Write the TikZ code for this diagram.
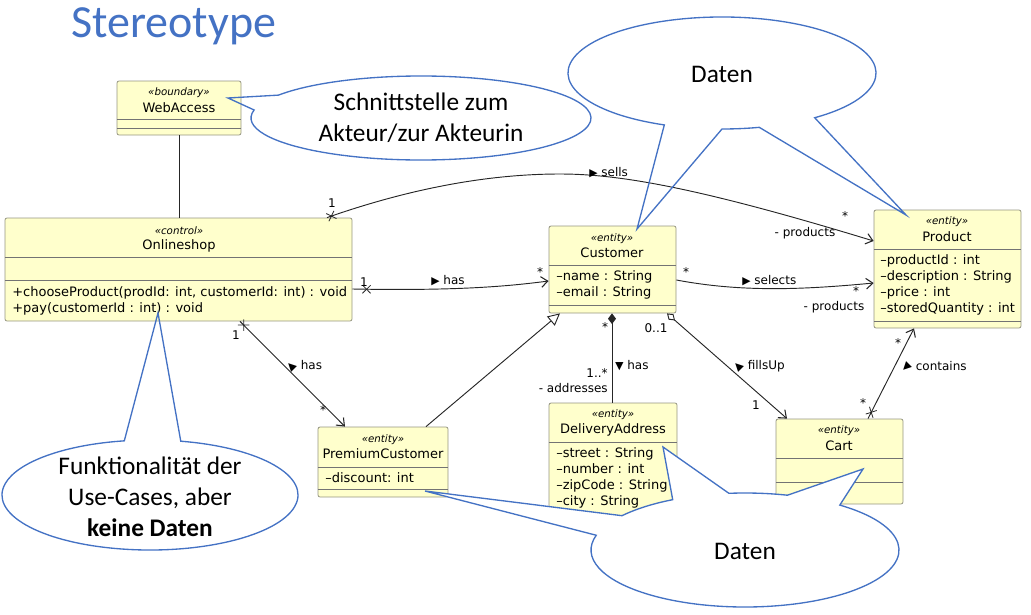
\documentclass[tikz,border=0pt]{standalone}
\usepackage{fontspec}
\setmainfont{DejaVu Sans}
\newfontfamily\notefont{Carlito}
\usepackage{graphicx}
\usepackage{tikz}
\usepackage{xcolor}
\usetikzlibrary{arrows.meta,shapes.misc}

\definecolor{classyellow}{RGB}{255,255,204}
\definecolor{classborder}{RGB}{150,150,130}
\definecolor{noteblue}{RGB}{68,114,196}

\newcommand{\readdir}[1]{\rotatebox[origin=c]{#1}{\scalebox{0.9}{▶}}}

\begin{document}
\begin{tikzpicture}[x=0.75pt,y=-0.75pt,
        >={Straight Barb[length=5pt,width=8pt,line width=0.8pt]},
        classbox/.style 2 args={draw=classborder, fill=classyellow, rounded corners=1.5pt,
            line width=0.6pt, minimum width=#1*0.75pt, minimum height=#2*0.75pt, inner sep=0pt},
        divider/.style={draw=black!55, line width=0.6pt},
        stereo/.style={font=\fontsize{7.7}{9}\selectfont\itshape, inner sep=0pt},
        cname/.style={font=\fontsize{9.75}{12}\selectfont, inner sep=0pt},
        members/.style={font=\fontsize{9.75}{12}\selectfont, align=left, anchor=west, inner sep=0pt},
        assoc/.style={draw=black!85, line width=0.7pt},
        lbl/.style={font=\fontsize{9}{10}\selectfont, inner sep=0pt},
        xmark/.style={cross out, draw=black!85, line width=0.6pt, minimum size=5.5pt, inner sep=0pt},
        callout/.style={draw=noteblue, line width=1pt},
        notetext/.style={font=\notefont\fontsize{19}{23.25}\selectfont, align=center, inner sep=0pt},
        titletext/.style={font=\notefont\fontsize{34.5}{40}\selectfont, text=noteblue, inner sep=0pt}]

    \useasboundingbox (0,0) rectangle (1031,614);

    \node[titletext, anchor=base west] (title) at (71,37) {Stereotype};

    % classes
    \node[classbox={124}{54}]  (web)  at (179,108)     {};
    \node[classbox={347}{103}] (shop) at (178.5,269.5) {};
    \node[classbox={127}{87}]  (cust) at (612.5,269.5) {};
    \node[classbox={147}{118}] (prod) at (947.5,269)   {};
    \node[classbox={130}{70}]  (prem) at (383,462)     {};
    \node[classbox={128}{115}] (addr) at (613,460.5)   {};
    \node[classbox={127}{85}]  (cart) at (839.5,461.5) {};

    % compartments
    \draw[divider] (web.west |- 0,119)  -- (web.east |- 0,119);
    \draw[divider] (web.west |- 0,128)  -- (web.east |- 0,128);
    \draw[divider] (shop.west |- 0,257) -- (shop.east |- 0,257);
    \draw[divider] (shop.west |- 0,280) -- (shop.east |- 0,280);
    \draw[divider] (cust.west |- 0,265) -- (cust.east |- 0,265);
    \draw[divider] (cust.west |- 0,305) -- (cust.east |- 0,305);
    \draw[divider] (prod.west |- 0,249) -- (prod.east |- 0,249);
    \draw[divider] (prod.west |- 0,321) -- (prod.east |- 0,321);
    \draw[divider] (prem.west |- 0,467) -- (prem.east |- 0,467);
    \draw[divider] (prem.west |- 0,489) -- (prem.east |- 0,489);
    \draw[divider] (addr.west |- 0,442) -- (addr.east |- 0,442);
    \draw[divider] (cart.west |- 0,458) -- (cart.east |- 0,458);
    \draw[divider] (cart.west |- 0,482) -- (cart.east |- 0,482);

    \node[stereo]  (webst)   at (179,93)  {«boundary»};
    \node[cname]   (webnm)   at (179,108) {WebAccess};
    \node[stereo]  (shopst)  at (179,231) {«control»};
    \node[cname]   (shopnm)  at (179,246) {Onlineshop};
    \node[members] (shopops) at (12,301)  {+chooseProduct(prodId: int, customerId: int) : void\\+pay(customerId : int) : void};
    \node[stereo]  (custst)  at (612,239) {«entity»};
    \node[cname]   (custnm)  at (612,253) {Customer};
    \node[members] (custat)  at (556,285) {–name : String\\–email : String};
    \node[stereo]  (prodst)  at (947,222) {«entity»};
    \node[cname]   (prodnm)  at (947,237) {Product};
    \node[members] (prodat)  at (880,285) {–productId : int\\–description : String\\–price : int\\–storedQuantity : int};
    \node[stereo]  (premst)  at (383,440) {«entity»};
    \node[cname]   (premnm)  at (383,454) {PremiumCustomer};
    \node[members] (premat)  at (325,478) {–discount: int};
    \node[stereo]  (addrst)  at (613,415) {«entity»};
    \node[cname]   (addrnm)  at (613,430) {DeliveryAddress};
    \node[members] (addrat)  at (556,478) {–street : String\\–number : int\\–zipCode : String\\–city : String};
    \node[stereo]  (cartst)  at (839,431) {«entity»};
    \node[cname]   (cartnm)  at (839,446) {Cart};

    % associations
    \draw[assoc] (web.south) -- (web.south |- shop.north);
    \draw[assoc,->] (shop.north -| 327,0) .. controls (400,192) and (480,174) .. (560,174)
        node[xmark,pos=0.02,sloped] (sellsx) {}
        .. controls (620,174) and (700,188) .. (prod.west |- 0,241);
    \draw[assoc,->] (shop.east |- 0,289) .. controls (460,291) and (510,286) .. (cust.west |- 0,281)
        node[xmark,pos=0.045,sloped] (hasx) {};
    \draw[assoc,->] (shop.south -| 240,0) -- (prem.north -| 345,0)
        node[xmark,pos=0.035,sloped] (premx) {};
    \draw[assoc,->] (cust.east |- 0,280) .. controls (740,292) and (800,290) .. (prod.west |- 0,283);
    \draw[assoc,{Diamond[length=8pt,width=6pt]}-] (cust.south -| 612,0) -- (addr.north -| 612,0);
    \draw[assoc,-{Triangle[open,fill=white,length=9pt,width=9pt]}] (prem.north -| 426,0) -- (cust.south -| 560,0);
    \draw[assoc,{Diamond[open,fill=white,length=8pt,width=5.5pt]}->] (cust.south -| 667,0) -- (cart.north -| 787,0);
    \draw[assoc,->] (cart.north -| 868,0) -- (prod.south -| 914,0)
        node[xmark,pos=0.07,sloped] (cartx) {};

    \node[lbl] (sellsm1) at (332,203) {1};
    \node[lbl,anchor=west] (sellsl) at (589,173) {\readdir{0} sells};
    \node[lbl] (sellsm2) at (845,216) {*};
    \node[lbl] (sellsr) at (805,233) {- products};

    \node[lbl] (hasm1) at (364,282) {1};
    \node[lbl,anchor=west] (hasl) at (431,281) {\readdir{0} has};
    \node[lbl] (hasm2) at (540,272) {*};

    \node[lbl] (premm1) at (236,335) {1};
    \node[lbl,anchor=west] (preml) at (285,366) {\readdir{135} has};
    \node[lbl] (premm2) at (323,410) {*};

    \node[lbl] (selm1) at (686,272) {*};
    \node[lbl,anchor=west] (sell) at (742,281) {\readdir{0} selects};
    \node[lbl] (selm2) at (856,291) {*};
    \node[lbl] (selr) at (834,307) {- products};

    \node[lbl] (compm1) at (605,327) {*};
    \node[lbl,anchor=west] (compl) at (615,366) {\readdir{-90} has};
    \node[lbl,anchor=east] (compm2) at (608,373) {1..*};
    \node[lbl,anchor=east] (compr) at (608,388) {- addresses};

    \node[lbl] (aggm1) at (656,328) {0..1};
    \node[lbl,anchor=west] (aggl) at (732,366) {\readdir{135} fillsUp};
    \node[lbl] (aggm2) at (756,405) {1};

    \node[lbl] (contm1) at (863,403) {*};
    \node[lbl] (contm2) at (898,343) {*};
    \node[lbl,anchor=west] (contl) at (900,367) {\readdir{225} contains};

    % notes
    \coordinate (nbc) at (421,118);
    \path (nbc) ++(213:170 and 42) coordinate (nb1);
    \coordinate (nbtip) at (228,98);
    \draw[callout] (nb1) arc[start angle=213, end angle=551, x radius=170, y radius=42] -- (nbtip) -- cycle;
    \node[notetext] (nbtext) at (421,118) {Schnittstelle zum\\Akteur/zur Akteurin};

    \coordinate (ntc) at (722,73);
    \path (ntc) ++(112:154 and 56) coordinate (nta1)
          (ntc) ++(76:154 and 56) coordinate (ntb2);
    \coordinate (ntipa) at (637,229);
    \coordinate (ntipb) at (906,215);
    \draw[callout] (nta1) arc[start angle=112, end angle=413, x radius=154, y radius=56] -- (ntipb)
        -- (ntb2) arc[start angle=76, end angle=90, x radius=154, y radius=56] -- (ntipa) -- cycle;
    \node[notetext] (nttext) at (722,74) {Daten};

    \coordinate (nlc) at (150,495);
    \path (nlc) ++(282:148 and 55) coordinate (nl1);
    \coordinate (nltip) at (158,313);
    \draw[callout] (nl1) arc[start angle=282, end angle=620, x radius=148, y radius=55] -- (nltip) -- cycle;
    \node[notetext] (nltext) at (150,497) {Funktionalität der\\Use-Cases, aber\\\textbf{keine Daten}};

    \coordinate (ndc) at (745,550);
    \path (ndc) ++(308:154 and 57) coordinate (nd3b)
          (ndc) ++(217:154 and 57) coordinate (nd1b)
          (ndc) ++(264:154 and 57) coordinate (nd2b);
    \coordinate (ndtip1) at (425,491);
    \coordinate (ndtip2) at (663,447);
    \coordinate (ndtip3) at (863,469);
    \draw[callout,fill=white] (nd3b) arc[start angle=308, end angle=555, x radius=154, y radius=57] -- (ndtip1)
        -- (nd1b) arc[start angle=217, end angle=242, x radius=154, y radius=57] -- (ndtip2)
        -- (nd2b) arc[start angle=264, end angle=286, x radius=154, y radius=57] -- (ndtip3) -- cycle;
    \node[notetext] (ndtext) at (745,551) {Daten};
\end{tikzpicture}
\end{document}
